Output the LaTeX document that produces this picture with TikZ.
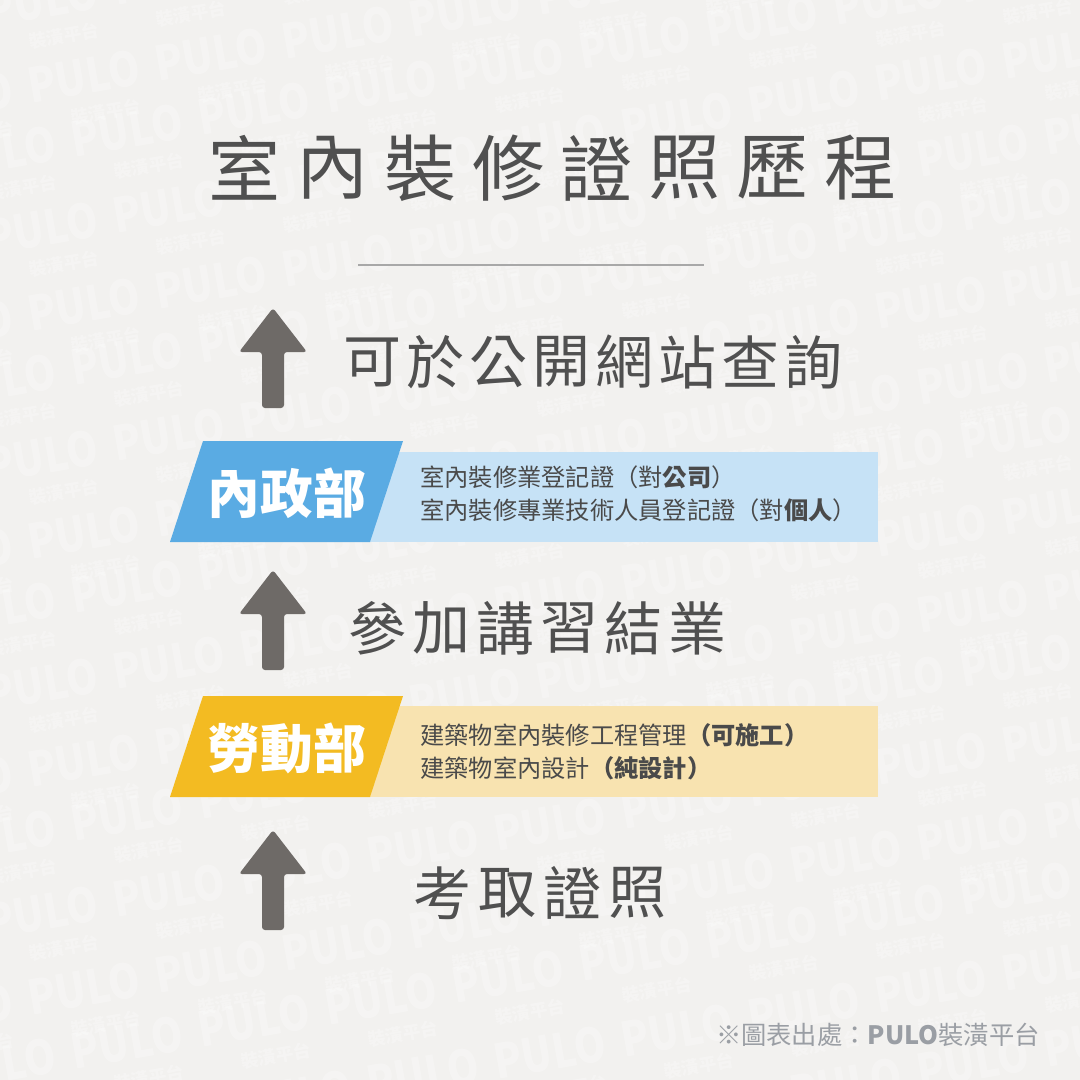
\documentclass[tikz,border=0pt]{standalone}
\usepackage{fontspec}
\setmainfont{Noto Sans CJK TC}
\usetikzlibrary{positioning}

\definecolor{bggray}{HTML}{F2F1EF}
\definecolor{inkgray}{HTML}{505050}
\definecolor{infogray}{HTML}{4A4A4A}
\definecolor{rulegray}{HTML}{A8A8A8}
\definecolor{arrowgray}{HTML}{6E6A67}
\definecolor{deptblue}{HTML}{5AABE3}
\definecolor{bandblue}{HTML}{C6E2F6}
\definecolor{deptyellow}{HTML}{F3BB22}
\definecolor{bandyellow}{HTML}{F8E3B0}
\definecolor{sourcegray}{HTML}{9A9EA4}

\begin{document}
\begin{tikzpicture}[x=0.02cm,y=-0.02cm,
  hand/.style={text=inkgray,inner sep=0pt,font=\fontsize{41}{43}\selectfont},
  handsmall/.style={hand,font=\fontsize{33}{35}\selectfont},
  dept/.style={text=white,inner sep=0pt,font=\bfseries\fontsize{30}{32}\selectfont},
  info/.style={text=infogray,inner sep=0pt,anchor=west,align=left,font=\fontsize{13.8}{18.8}\selectfont},
  wmark/.style={text=white,opacity=0.28,rotate=10,inner sep=0pt,xscale=0.85,font=\bfseries\fontsize{27}{27}\selectfont},
  wsub/.style={text=white,opacity=0.28,rotate=10,inner sep=0pt,font=\bfseries\fontsize{10}{10}\selectfont},
  pics/steparrow/.style={code={
    \fill[arrowgray,rounded corners=0.6mm] (0,0) -- (34,44) -- (11,44) -- (11,100)
      -- (-11,100) -- (-11,44) -- (-34,44) -- cycle;}}
]

% background
\fill[bggray] (0,0) rectangle (1080,1080);
\useasboundingbox (0,0) rectangle (1080,1080);

% watermark
\begin{scope}
\clip (0,0) rectangle (1080,1080);
\foreach \r in {-1,...,17}
  \foreach \c in {-1,...,9} {
    \node[wmark] (wm-\r-\c) at ({\c*127+mod(\r+1,3)*42}, {\r*76-\c*22}) {PULO};
    \node[wsub] (wmsub-\r-\c) at ({\c*127+mod(\r+1,3)*42+22}, {\r*76-\c*22+36}) {裝潢平台};
  }
\end{scope}

% title
\foreach \ch [count=\i from 0] in {室,內,裝,修,證,照,歷,程}
  \node[hand] (title-\i) at (245+\i*88,168) {\ch};
\draw[rulegray,line width=0.4mm] (358,265) -- (704,265);

% step: online search
\pic at (273,308) {steparrow};
\foreach \ch [count=\i from 0] in {可,於,公,開,網,站,查,詢}
  \node[handsmall] (search-\i) at (372+\i*63,362) {\ch};

% ministry of the interior
\fill[bandblue] (360,452) rectangle (878,542);
\fill[deptblue] (203,441) -- (403,441) -- (370,542) -- (170,542) -- cycle;
\node[dept] (moi) at (287,493) {內政部};
\node[info] (moi-info) at (420,494) {室內裝修業登記證（對\textbf{公司}）\\室內裝修專業技術人員登記證（對\textbf{個人}）};

% step: training course
\pic at (273,570) {steparrow};
\foreach \ch [count=\i from 0] in {參,加,講,習,結,業}
  \node[handsmall] (course-\i) at (377+\i*64,628) {\ch};

% ministry of labor
\fill[bandyellow] (360,706) rectangle (878,797);
\fill[deptyellow] (203,696) -- (403,696) -- (370,797) -- (170,797) -- cycle;
\node[dept] (mol) at (287,748) {勞動部};
\node[info] (mol-info) at (420,752) {建築物室內裝修工程管理\textbf{（可施工）}\\建築物室內設計\textbf{（純設計）}};

% step: exam
\pic at (273,830) {steparrow};
\foreach \ch [count=\i from 0] in {考,取,證,照}
  \node[handsmall] (exam-\i) at (442+\i*65,893) {\ch};

% source
\node[text=sourcegray,anchor=east,inner sep=0pt,font=\fontsize{14.4}{16}\selectfont] (source) at (1040,1035) {※圖表出處：\textbf{PULO}裝潢平台};

\end{tikzpicture}
\end{document}
